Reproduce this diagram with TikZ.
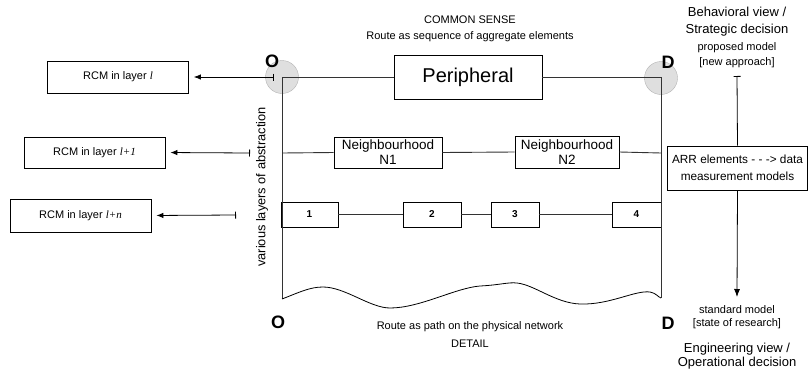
\documentclass[tikz,border=0pt]{standalone}
\usepackage{fontspec}
\setmainfont{Liberation Sans}
\newfontfamily\romfont{Liberation Serif}
\usepackage{xcolor}
\usetikzlibrary{arrows.meta,calc,positioning}

\tikzset{
  box/.style={draw,line width=0.8pt,inner sep=1pt,align=center},
  rcmbox/.style={box,minimum width=141pt,minimum height=32pt,font=\fontsize{11}{12}\selectfont},
  numbox/.style={box,minimum height=25pt,font=\fontsize{10}{12}\selectfont\bfseries},
  route/.style={draw=black!80,line width=0.9pt},
  endpt/.style={circle,draw=gray!60,fill=gray!25,minimum size=33pt,inner sep=0pt},
  odlabel/.style={font=\fontsize{18}{20}\selectfont\bfseries},
  note/.style={align=center,font=\fontsize{11}{16}\selectfont},
  bignote/.style={align=center,font=\fontsize{13}{15}\selectfont},
  toRCM/.style={{Bar[width=7pt]}-{Latex[length=7pt,width=5.5pt]},line width=0.8pt,shorten >=5pt}
}
\newcommand{\lay}[1]{{\romfont\itshape #1}}

\begin{document}
\begin{tikzpicture}[x=1pt,y=-1pt,>=Latex]
  \useasboundingbox (0,0) rectangle (808,370);

  % origin / destination
  \node[endpt] (Oc) at (282,77) {};
  \node[endpt] (Dc) at (661,78) {};
  \coordinate (O) at (282,77);
  \coordinate (D) at (661,77);
  \coordinate (Obot) at (282,299);
  \coordinate (Dbot) at (661,298);
  \node[odlabel] (Otop) at (272,61) {O};
  \node[odlabel] (Dtop) at (668,62) {D};
  \node[odlabel] (Olow) at (278,322) {O};
  \node[odlabel] (Dlow) at (668,323) {D};

  % layers
  \node[box,minimum width=148pt,minimum height=44pt,font=\fontsize{20}{22}\selectfont] (periph) at (468,77) {Peripheral};
  \node[box,minimum width=108pt,minimum height=31pt,font=\fontsize{13.5}{15}\selectfont] (n1) at (388,152.5) {Neighbourhood\\N1};
  \node[box,minimum width=104pt,minimum height=32pt,font=\fontsize{13.5}{15}\selectfont] (n2) at (567,152) {Neighbourhood\\N2};
  \node[numbox,minimum width=57pt] (b1) at (309.5,214.5) {1};
  \node[numbox,minimum width=58pt] (b2) at (432,214.5) {2};
  \node[numbox,minimum width=48pt] (b3) at (515,214.5) {3};
  \node[numbox,minimum width=49pt] (b4) at (636.5,214.5) {4};
  \coordinate (l2O) at (282,153);
  \coordinate (l2D) at (661,153);

  \draw[route] (O) -- (periph.west);
  \draw[route] (periph.east) -- (D);
  \draw[route] (O) -- (Obot);
  \draw[route] (D) -- (Dbot);
  \draw[route] (l2O) -- (n1.west);
  \draw[route] (n1.east) -- (n2.west);
  \draw[route] (n2.east) -- (l2D);
  \draw[route] (b1) -- (b2);
  \draw[route] (b2) -- (b3);
  \draw[route] (b3) -- (b4);
  \draw[line width=0.8pt] (Obot) .. controls (300,292) and (310,287) .. (323,287)
    .. controls (345,287) and (370,308) .. (390,308)
    .. controls (420,308) and (455,288) .. (480,286)
    .. controls (500,285) and (508,282) .. (517,283)
    .. controls (535,285) and (555,303) .. (580,304)
    .. controls (610,305) and (635,290) .. (650,292)
    .. controls (656,293) and (658,297) .. (Dbot);

  % RCM boxes
  \node[rcmbox] (rcm1) at (118,77) {RCM in layer \lay{l}};
  \node[rcmbox,minimum height=31pt] (rcm2) at (94.5,152.5) {RCM in layer \lay{l+1}};
  \node[rcmbox,minimum height=33pt] (rcm3) at (80.5,215.5) {RCM in layer \lay{l+n}};
  \coordinate (bar1) at (274,77);
  \coordinate (bar2) at (250,153);
  \coordinate (bar3) at (236,215);
  \draw[toRCM] (bar1) -- (rcm1.east);
  \draw[toRCM] (bar2) -- (rcm2.east);
  \draw[toRCM] (bar3) -- (rcm3.east);
  \node[rotate=90,font=\fontsize{12.8}{15}\selectfont] (abstr) at (262,187) {various layers of abstraction};

  % captions
  \node[note] (common) at (470,29) {COMMON SENSE\\Route as sequence of aggregate elements};
  \node[note,font=\fontsize{11}{18}\selectfont] (detail) at (470,335) {Route as path on the physical network\\DETAIL};

  % right column
  \node[bignote,font=\fontsize{13}{17}\selectfont] (behav) at (737,21.5) {Behavioral view /\\Strategic decision};
  \node[note,font=\fontsize{11}{15}\selectfont] (proposed) at (737,55.5) {proposed model\\{[}new approach{]}};
  \node[box,minimum width=140pt,minimum height=44pt,font=\fontsize{11.8}{17}\selectfont] (arr) at (737.5,168) {ARR elements - - -> data\\measurement models};
  \coordinate (ptop) at (737,76);
  \coordinate (stdtop) at (737,297);
  \draw[{Bar[width=7pt]}-,line width=0.8pt] (ptop) -- (arr.north);
  \draw[-{Latex[length=8pt,width=6pt]},line width=0.8pt] (arr.south) -- (stdtop);
  \node[note,font=\fontsize{11}{13}\selectfont] (standard) at (737,317) {standard model\\{[}state of research{]}};
  \node[bignote,font=\fontsize{13}{14}\selectfont] (engin) at (737,356.5) {Engineering view /\\Operational decision};
\end{tikzpicture}
\end{document}
